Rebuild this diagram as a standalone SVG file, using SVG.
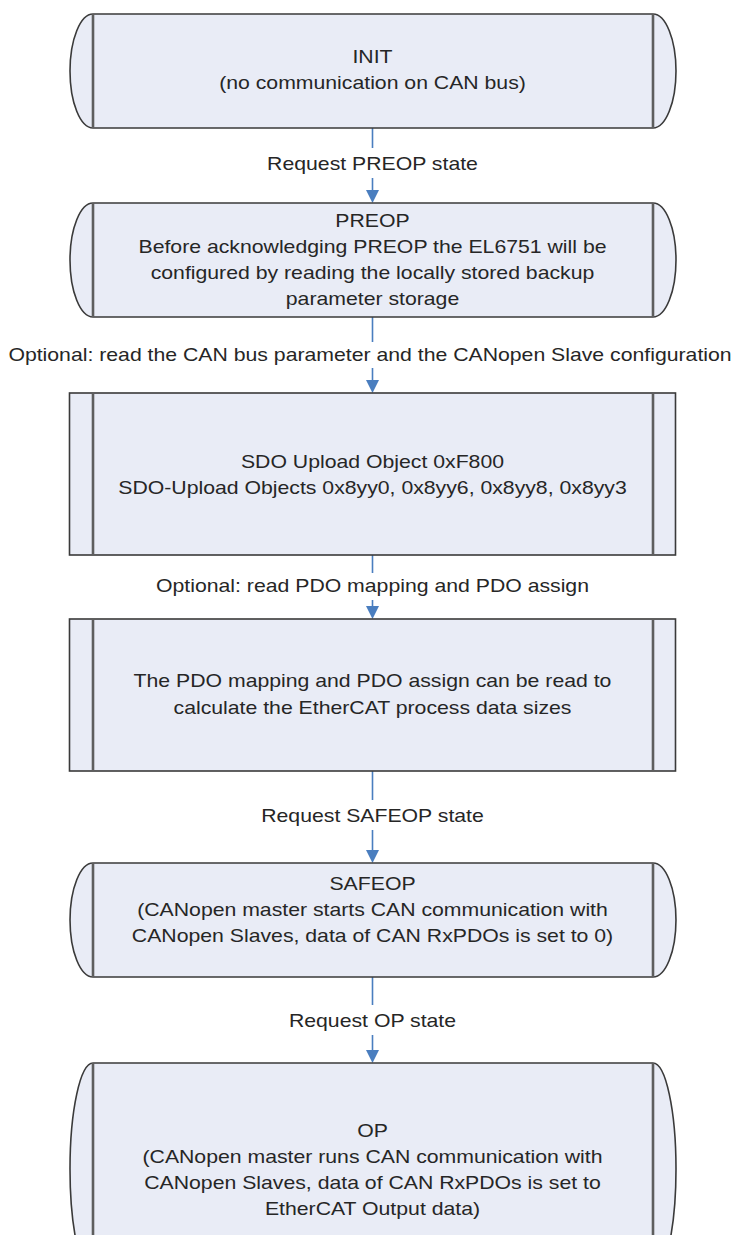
<svg xmlns="http://www.w3.org/2000/svg" width="736" height="1235" viewBox="0 0 736 1235">
<style>
.box{fill:#E9ECF6;stroke:#3A3A3A;stroke-width:1.6}
.bar{stroke:#5E5E5E;stroke-width:2.6;fill:none}
.t{font-family:"Liberation Sans",Arial,sans-serif;font-size:18px;fill:#262626;text-anchor:middle}
.c{stroke:#4A7EBF;stroke-width:1.6;fill:none}
</style>
<defs>
<marker id="ah" viewBox="0 0 14 14" markerWidth="14" markerHeight="14" refX="10" refY="7" orient="auto" markerUnits="userSpaceOnUse">
<path d="M0,0.5 L13,7 L0,13.5 z" fill="#4A7EBF"/>
</marker>
</defs>
<rect width="736" height="1235" fill="#FFFFFF"/>
<g id="connectors">
<path class="c" d="M372.5,128 V148 M372.5,178 V200" marker-end="url(#ah)"/>
<path class="c" d="M372.5,317 V342 M372.5,368 V390" marker-end="url(#ah)"/>
<path class="c" d="M372.5,555 V573 M372.5,600 V616" marker-end="url(#ah)"/>
<path class="c" d="M372.5,771 V800 M372.5,830 V860" marker-end="url(#ah)"/>
<path class="c" d="M372.5,977 V1005 M372.5,1035 V1060" marker-end="url(#ah)"/>
<text class="t" transform="translate(372.5,169.5) scale(1.18,1)">Request PREOP state</text>
<text class="t" transform="translate(370,360.5) scale(1.18,1)">Optional: read the CAN bus parameter and the CANopen Slave configuration</text>
<text class="t" transform="translate(372.5,591.5) scale(1.18,1)">Optional: read PDO mapping and PDO assign</text>
<text class="t" transform="translate(372.5,821.5) scale(1.18,1)">Request SAFEOP state</text>
<text class="t" transform="translate(372.5,1026.5) scale(1.18,1)">Request OP state</text>
</g>
<g id="init">
<path class="box" d="M93,14 H653 A23,57 0 0 1 653,128 H93 A23,57 0 0 1 93,14 Z"/>
<path class="bar" d="M93,14 V128 M653,14 V128"/>
<text class="t" transform="translate(372.5,62.5) scale(1.18,1)">INIT</text>
<text class="t" transform="translate(372.5,88.5) scale(1.18,1)">(no communication on CAN bus)</text>
</g>
<g id="preop">
<path class="box" d="M93,203 H653 A23,57 0 0 1 653,317 H93 A23,57 0 0 1 93,203 Z"/>
<path class="bar" d="M93,203 V317 M653,203 V317"/>
<text class="t" transform="translate(372.5,226.5) scale(1.18,1)">PREOP</text>
<text class="t" transform="translate(372.5,252.5) scale(1.18,1)">Before acknowledging PREOP the EL6751 will be</text>
<text class="t" transform="translate(372.5,278.5) scale(1.18,1)">configured by reading the locally stored backup</text>
<text class="t" transform="translate(372.5,304.5) scale(1.18,1)">parameter storage</text>
</g>
<g id="sdo">
<rect class="box" x="69.5" y="393" width="606" height="162"/>
<path class="bar" d="M93,393 V555 M653,393 V555"/>
<text class="t" transform="translate(372.5,467.5) scale(1.18,1)">SDO Upload Object 0xF800</text>
<text class="t" transform="translate(372.5,493.5) scale(1.18,1)">SDO-Upload Objects 0x8yy0, 0x8yy6, 0x8yy8, 0x8yy3</text>
</g>
<g id="pdo">
<rect class="box" x="69.5" y="619" width="606" height="152"/>
<path class="bar" d="M93,619 V771 M653,619 V771"/>
<text class="t" transform="translate(372.5,686.5) scale(1.18,1)">The PDO mapping and PDO assign can be read to</text>
<text class="t" transform="translate(372.5,713.5) scale(1.18,1)">calculate the EtherCAT process data sizes</text>
</g>
<g id="safeop">
<path class="box" d="M93,863 H653 A23,57 0 0 1 653,977 H93 A23,57 0 0 1 93,863 Z"/>
<path class="bar" d="M93,863 V977 M653,863 V977"/>
<text class="t" transform="translate(372.5,889.5) scale(1.18,1)">SAFEOP</text>
<text class="t" transform="translate(372.5,915.5) scale(1.18,1)">(CANopen master starts CAN communication with</text>
<text class="t" transform="translate(372.5,941.5) scale(1.18,1)">CANopen Slaves, data of CAN RxPDOs is set to 0)</text>
</g>
<g id="op">
<path class="box" d="M93,1063 H653 A23,106 0 0 1 653,1275 H93 A23,106 0 0 1 93,1063 Z"/>
<path class="bar" d="M93,1063 V1275 M653,1063 V1275"/>
<text class="t" transform="translate(372.5,1136.5) scale(1.18,1)">OP</text>
<text class="t" transform="translate(372.5,1162.5) scale(1.18,1)">(CANopen master runs CAN communication with</text>
<text class="t" transform="translate(372.5,1188.5) scale(1.18,1)">CANopen Slaves, data of CAN RxPDOs is set to</text>
<text class="t" transform="translate(372.5,1214.5) scale(1.18,1)">EtherCAT Output data)</text>
</g>
</svg>
